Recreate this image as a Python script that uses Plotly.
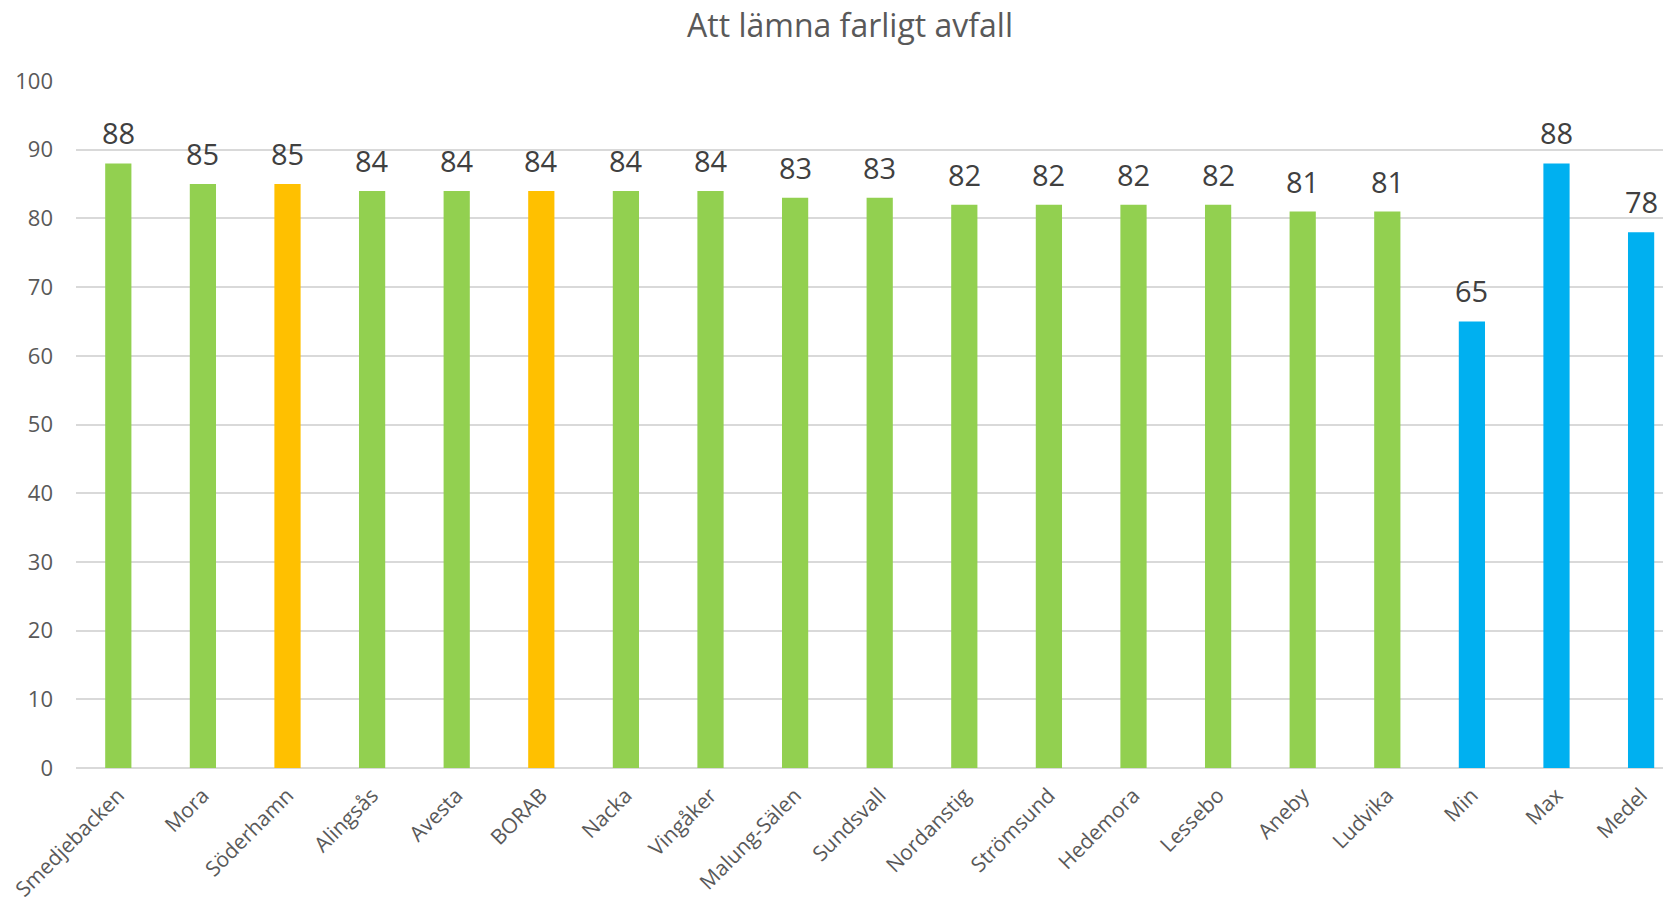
import plotly.graph_objects as go

categories = ["Smedjebacken", "Mora", "Söderhamn", "Alingsås", "Avesta", "BORAB", "Nacka",
              "Vingåker", "Malung-Sälen", "Sundsvall", "Nordanstig", "Strömsund", "Hedemora",
              "Lessebo", "Aneby", "Ludvika", "Min", "Max", "Medel"]
values = [88, 85, 85, 84, 84, 84, 84, 84, 83, 83, 82, 82, 82, 82, 81, 81, 65, 88, 78]
groups = ["g", "g", "o", "g", "g", "o", "g", "g", "g", "g", "g", "g", "g", "g", "g", "g", "b", "b", "b"]
palette = {"g": "#92D050", "o": "#FFC000", "b": "#00B0F0"}
y_ticks = [0, 10, 20, 30, 40, 50, 60, 70, 80, 90, 100]

W, H = 1663, 897
ML, MT = 76, 81
MB = H - 768
spacing = 84.6
n_visible = (W - ML) / spacing

fig = go.Figure()
fig.add_trace(go.Bar(
    x=categories, y=values,
    marker=dict(color=[palette[g] for g in groups], line=dict(width=0)),
    width=0.31,
    hoverinfo="x+y",
))

for c, v in zip(categories, values):
    fig.add_annotation(x=c, y=v, text=str(v), showarrow=False, yanchor="bottom",
                       yshift=9, font=dict(family="Open Sans", size=29, color="#404040"))

fig.update_layout(
    width=W, height=H,
    margin=dict(l=ML, r=0, t=MT, b=MB, pad=0),
    paper_bgcolor="white", plot_bgcolor="white",
    showlegend=False,
    title=dict(text="Att lämna farligt avfall", x=850 / W, xref="container", xanchor="center",
               y=1 - 26 / H, yref="container", yanchor="middle",
               font=dict(family="Open Sans", size=32, color="#595959")),
    xaxis=dict(
        type="category", range=[-0.5, -0.5 + n_visible],
        tickangle=-45, tickfont=dict(family="Open Sans", size=21, color="#595959"),
        showgrid=False, showline=False, ticks="", ticklabelstandoff=10,
        zeroline=False, automargin=False,
    ),
    yaxis=dict(
        range=[0, 100], tickvals=y_ticks, ticks="",
        tickfont=dict(family="Open Sans", size=22, color="#595959"),
        showgrid=True, gridcolor="#D9D9D9", gridwidth=1.5,
        zeroline=True, zerolinecolor="#D9D9D9", zerolinewidth=2,
        showline=False, ticklabelstandoff=22, automargin=False,
    ),
)

fig.write_html("out.html", config={"displayModeBar": False},
               post_script="document.body.style.margin='0';document.body.style.overflow='hidden';")
